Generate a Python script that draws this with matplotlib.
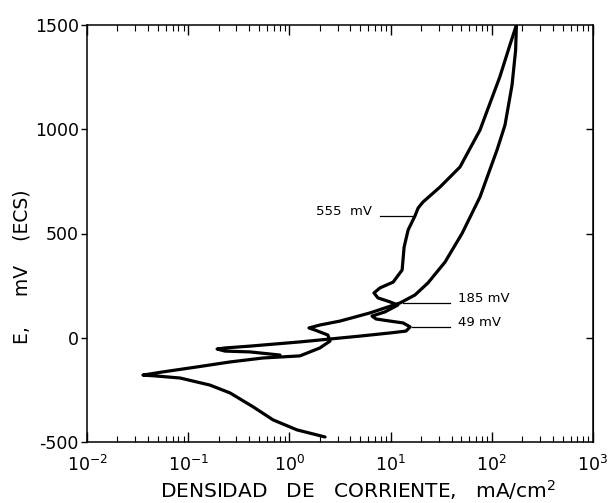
import matplotlib
matplotlib.use("Agg")
import matplotlib.pyplot as plt
from matplotlib.ticker import LogLocator, NullFormatter

# Forward scan (cathodic branch -> corrosion potential -> active/passive -> 1500 mV)
fwd_i = [2.25, 1.87, 1.19, 0.69, 0.44, 0.26, 0.164, 0.083, 0.047, 0.0357,
         0.056, 0.122, 0.26, 0.55, 1.27, 2.0, 2.52, 2.40, 1.79, 1.56,
         2.0, 3.16, 6.25, 12.4, 17.4, 23.4, 34.5, 50.8, 76.4, 112.5,
         135.0, 158.5, 172.0, 175.0]
fwd_E = [-476, -466, -442, -394, -332, -265, -227, -193, -183, -179,
         -164, -140, -116, -97, -87, -49, -16, 13, 37, 47,
         61, 80, 119, 167, 205, 263, 363, 500, 675, 900,
         1020, 1212, 1380, 1500]

# Reverse scan (1500 mV back down)
rev_i = [175.0, 151.0, 120.0, 76.4, 48.5, 30.8, 20.9, 18.7, 17.4, 14.9,
         13.6, 13.0, 10.6, 7.85, 6.85, 7.5, 9.86, 11.8, 8.8, 6.55,
         7.18, 9.86, 13.3, 15.6, 14.2, 9.86, 4.99, 2.52, 1.27, 0.41,
         0.231, 0.193, 0.231, 0.41, 0.807]
rev_E = [1500, 1404, 1251, 996, 819, 723, 651, 622, 584, 517,
         435, 325, 267, 239, 215, 191, 172, 157, 124, 104,
         90, 80, 71, 52, 32, 23, 8, -6, -20, -40,
         -49, -54, -64, -68, -83]

# Annotations: label, leader start/end current, potential, text current, text potential
ann_labels = ["555  mV", "185 mV", "49 mV"]
ann_x0 = [7.85, 13.3, 16.3]
ann_x1 = [16.6, 38.6, 38.6]
ann_E = [584, 167, 52]
ann_tx = [6.6, 46.0, 46.0]
ann_tE = [607, 190, 71]
ann_ha = ["right", "left", "left"]

x_ticks = [1e-2, 1e-1, 1e0, 1e1, 1e2, 1e3]
x_ticklabels = [r"$10^{-2}$", r"$10^{-1}$", r"$10^{0}$", r"$10^{1}$", r"$10^{2}$", r"$10^{3}$"]
y_ticks = [-500, 0, 500, 1000, 1500]
y_ticklabels = ["-500", "0", "500", "1000", "1500"]

plt.rcParams['font.family'] = ['DejaVu Sans']
plt.rcParams['mathtext.default'] = 'regular'

fig = plt.figure(figsize=(6.11, 5.03), dpi=100)
ax = fig.add_axes([87/611, 1 - 442/503, 506/611, 417/503])

ax.plot(fwd_i, fwd_E, color='black', lw=2.3, solid_joinstyle='round', solid_capstyle='round')
ax.plot(rev_i, rev_E, color='black', lw=2.3, solid_joinstyle='round', solid_capstyle='round')

for lab, x0, x1, e, tx, te, ha in zip(ann_labels, ann_x0, ann_x1, ann_E, ann_tx, ann_tE, ann_ha):
    ax.plot([x0, x1], [e, e], color='black', lw=0.9)
    ax.text(tx, te, lab, ha=ha, va='center', fontsize=9.5)

ax.set_xscale('log')
ax.set_xlim(1e-2, 1e3)
ax.set_ylim(-500, 1500)
ax.set_xticks(x_ticks)
ax.set_xticklabels(x_ticklabels, fontsize=12.5)
ax.xaxis.set_minor_locator(LogLocator(base=10, subs=range(2, 10), numticks=20))
ax.xaxis.set_minor_formatter(NullFormatter())
ax.tick_params(axis='x', which='major', direction='in', top=True, bottom=True, length=7, width=1, pad=9)
ax.tick_params(axis='x', which='minor', direction='in', top=True, bottom=True, length=4, width=0.8)

ax.set_yticks(y_ticks)
ax.set_yticklabels(y_ticklabels, fontsize=12.5)
ax.tick_params(axis='y', which='major', direction='out', left=True, right=False, length=4, width=1, pad=2)
sec = ax.secondary_yaxis('right')
sec.set_yticks([0, 500, 1000])
sec.tick_params(direction='in', length=5, width=1, labelright=False)
sec.set_yticklabels([])

for s in ax.spines.values():
    s.set_linewidth(1.1)

fig.text(358/611, 1 - 490/503, "DENSIDAD   DE   CORRIENTE,   mA/cm$^2$", ha='center', va='center', fontsize=14.5)
fig.text(22/611, 1 - 267/503, "E,     mV    (ECS)", ha='center', va='center', rotation=90, fontsize=13.5)

fig.savefig("out.png", dpi=100)
